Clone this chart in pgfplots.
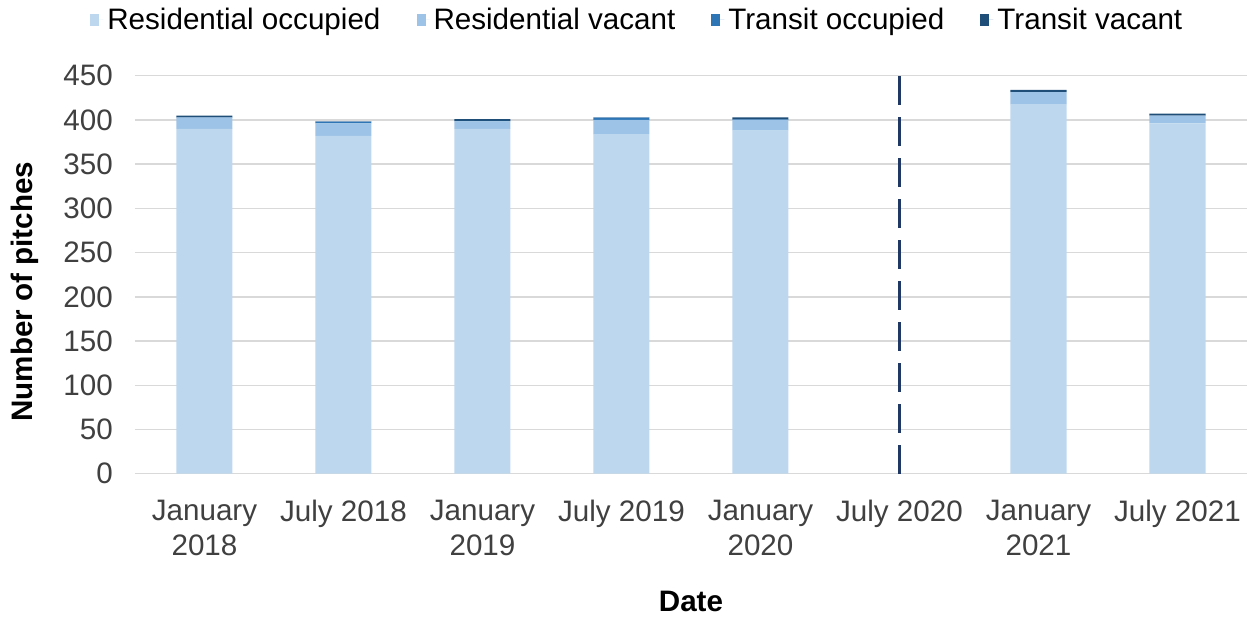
\documentclass[border=0pt]{standalone}
\usepackage{pgfplots}
\pgfplotsset{compat=1.18}
\usepackage{fontspec}
\setmainfont{Liberation Sans}
\definecolor{resOcc}{HTML}{BDD7EE}
\definecolor{resVac}{HTML}{9DC3E6}
\definecolor{trOcc}{HTML}{2E75B6}
\definecolor{trVac}{HTML}{1F4E79}
\definecolor{covidLine}{HTML}{1F3864}
\definecolor{gridGrey}{HTML}{D9D9D9}
\definecolor{labelInk}{HTML}{404040}
\newcommand\chartfont{\fontsize{14.8pt}{17.5pt}\selectfont}

% x ro = residential occupied, rv = residential vacant, to/tv = transit
\pgfplotstableread{
x ro rv to tv
0 390 12.5 0.5 2
1 382 14 2 0.5
2 390 8.5 0.5 2
3 384 16 2.5 0.5
4 388 12 0.5 2.5
6 418 13.5 0 2.5
7 396 9 0 2
}\pitches

\begin{document}
\begin{tikzpicture}
  \path[use as bounding box] (-67.5pt,-72pt) rectangle (558.5pt,236.85pt);
  \begin{axis}[
    scale only axis,
    width=556pt,
    height=199pt,
    ybar stacked,
    bar width=28pt,
    xmin=-0.5, xmax=7.5,
    ymin=0, ymax=450,
    xtick={0,...,7},
    xticklabels={{January\\2018},{July 2018},{January\\2019},{July 2019},{January\\2020},{July 2020},{January\\2021},{July 2021}},
    ytick={0,50,...,450},
    axis x line=bottom,
    axis y line=left,
    x axis line style={draw=gridGrey, line width=0.75pt, -},
    y axis line style={draw=none},
    major tick length=0pt,
    ymajorgrids,
    major grid style={draw=gridGrey, line width=0.75pt},
    /pgf/number format/assume math mode=true,
    tick label style={font=\chartfont, text=labelInk},
    yticklabel style={xshift=-7.6pt},
    xticklabel style={align=center, yshift=-9.5pt},
    ylabel={\textbf{Number of pitches}},
    xlabel={\textbf{Date}},
    label style={font=\chartfont, text=black},
    ylabel style={at={(axis description cs:-0.099,0.457)}, anchor=center},
    xlabel style={at={(axis description cs:0.5,-0.322)}, anchor=center},
    legend style={
      at={(axis description cs:-0.0405,1.14)},
      anchor=west,
      legend columns=4,
      draw=none,
      fill=none,
      font=\chartfont,
      text=black,
      inner sep=0pt,
      /tikz/every even column/.append style={column sep=16pt},
    },
    legend image code/.code={
      \fill[#1] (0pt,-2.8pt) rectangle (4.5pt,2.8pt);
      \path (0pt,0pt) -- (6.5pt,0pt);
    },
    clip=false,
  ]
    \addplot[fill=resOcc, draw=none] table[x=x, y=ro] {\pitches};
    \addlegendentry{Residential occupied}
    \addplot[fill=resVac, draw=none] table[x=x, y=rv] {\pitches};
    \addlegendentry{Residential vacant}
    \addplot[fill=trOcc, draw=none] table[x=x, y=to] {\pitches};
    \addlegendentry{Transit occupied}
    \addplot[fill=trVac, draw=none] table[x=x, y=tv] {\pitches};
    \addlegendentry{Transit vacant}
  \end{axis}
  \begin{axis}[
    scale only axis,
    width=556pt,
    height=199pt,
    xmin=-0.5, xmax=7.5,
    ymin=0, ymax=450,
    hide axis,
    clip=false,
  ]
    \addplot[draw=covidLine, line width=1.5pt, dash pattern=on 14.5pt off 6pt, no marks]
      coordinates {(5,0) (5,450)};
  \end{axis}
\end{tikzpicture}
\end{document}
